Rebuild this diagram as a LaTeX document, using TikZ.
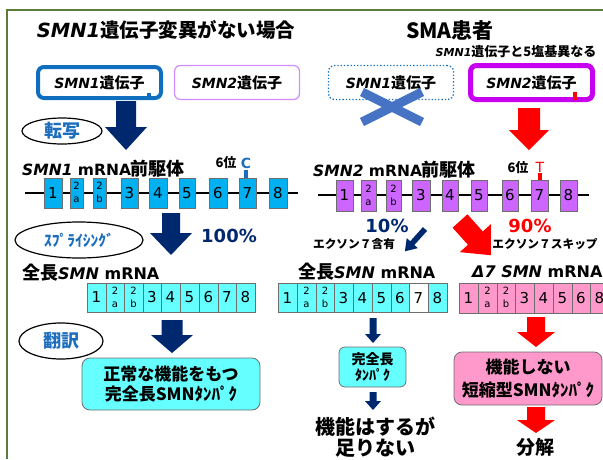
\documentclass[tikz,border=0pt]{standalone}
\usepackage{fontspec}
\setmainfont{Noto Sans CJK JP}
\newfontfamily\dv{DejaVu Sans}
\usetikzlibrary{shapes.geometric}
\newcommand\fsz[1]{\fontsize{#1}{#1}\selectfont}
\newcommand\smnit[2]{{\dv\bfseries\itshape\fsz{#1}#2}}
\newcommand\lat[2]{{\dv\bfseries\fsz{#1}#2}}
\newcommand\two[1]{\begin{tabular}{@{}c@{}}\fsz{10}2\\[-2pt]\fsz{10}#1\end{tabular}}
\newcommand\barrow[5]{\fill[#1] ({-#4},0) -- (#4,0) -- (#4,{#2-#3}) -- (#5,{#2-#3}) -- (0,#2) -- ({-#5},{#2-#3}) -- ({-#4},{#2-#3}) -- cycle;}
\definecolor{navy}{RGB}{0,40,110}
\definecolor{tblue}{RGB}{30,110,190}
\definecolor{gblue}{RGB}{16,110,190}
\definecolor{lviolet}{RGB}{210,140,255}
\definecolor{magen}{RGB}{200,0,240}
\definecolor{xblue}{RGB}{70,115,196}
\definecolor{exb}{RGB}{0,176,240}
\definecolor{exv}{RGB}{204,102,255}
\definecolor{mcy}{RGB}{102,255,255}
\definecolor{mpk}{RGB}{255,153,204}
\definecolor{frm}{RGB}{90,125,55}
\definecolor{bred}{RGB}{255,0,0}
\definecolor{exbd}{RGB}{110,110,110}
\begin{document}
\begin{tikzpicture}[x=1pt,y=-1pt,
  exonL/.style={draw=exbd, fill=exb, line width=0.8, inner sep=0, minimum height=30, font={\dv\fsz{15}}},
  exonR/.style={draw=exbd, fill=exv, line width=0.8, inner sep=0, minimum height=31, font={\dv\fsz{15}}},
  cellC/.style={draw=exbd, fill=mcy, line width=0.8, inner sep=0, minimum height=29, font={\dv\fsz{15}}},
  cellP/.style={draw=exbd, fill=mpk, line width=0.8, inner sep=0, minimum height=30, font={\dv\fsz{15}}},
  oval/.style={draw, ellipse, line width=1.2, inner sep=0, text=tblue, font={\bfseries\fsz{18}}},
  genetext/.style={font={\bfseries\fsz{15}}},
  pbox/.style={draw=exbd, line width=0.8, rounded corners=8, align=center, font={\bfseries\fsz{17}}}
]
\useasboundingbox (0,0) rectangle (603,459);
\clip (0,0) rectangle (603,459);
% frame
\draw[frm, line width=2] (7,459) -- (7,10) -- (603,10);

% titles
\node[font={\bfseries\fsz{19.5}}] (title1) at (166,30) {\smnit{19.5}{SMN1}遺伝子変異がない場合};
\node[font={\bfseries\fsz{21}}] (title2) at (450,31) {SMA患者};
\node[font={\bfseries\fsz{13}}] (sub) at (516,52) {\smnit{11}{SMN1}遺伝子と5塩基異なる};

% gene boxes
\node[genetext, draw=gblue, line width=4, rounded corners=6, minimum width=123, minimum height=31] (g1) at (99.5,82.5) {\smnit{14}{SMN1}遺伝子};
\fill[gblue] (147,93) rectangle (151,99);
\node[genetext, draw=lviolet, line width=1.2, rounded corners=6, minimum width=125, minimum height=34] (g2) at (237,82.5) {\smnit{14}{SMN2}遺伝子};
\node[genetext, draw=gblue, dotted, line width=1.3, rounded corners=6, minimum width=125, minimum height=34] (g3) at (391,82.5) {\smnit{14}{SMN1}遺伝子};
\node[genetext, draw=magen, line width=5, rounded corners=6, minimum width=122, minimum height=34] (g4) at (531.5,82.5) {\smnit{14}{SMN2}遺伝子};
\fill[bred] (573,92) rectangle (577,100);
% blue X
\draw[xblue, line width=9] (362,92) -- (422,122);
\draw[xblue, line width=9] (362,122) -- (422,92);

% transcription
\node[oval, minimum width=80, minimum height=26] (tr) at (62,131) {転写};
\barrow{navy, shift={(126,101)}}{49}{23}{10}{21}
\barrow{bred, shift={(529,108)}}{42}{20}{11}{20}

% pre-mRNA left
\node[anchor=west, inner sep=0, font={\bfseries\fsz{18}}] (preL) at (22,169) {\smnit{15.5}{SMN1}\lat{15.5}{\ mRNA}前駆体};
\node[font={\bfseries\fsz{13}}] (p6L) at (226,163) {6位};
\coordinate (lLs) at (25,193);
\coordinate (lLe) at (298,193);
\draw[line width=2.5] (lLs) -- (lLe);
\foreach \a/\b/\l [count=\i] in {44/62/1, 70/83/{\two{a}}, 93/106/{\two{b}}, 121/138/3, 149/167/4, 179/195/5, 209/227/6, 239/256/7, 269/287/8}
  \node[exonL, minimum width={(\b-\a)*1pt}] (eL\i) at ({(\a+\b)/2},193) {\l};
\node[text=tblue, font={\dv\bfseries\fsz{14}}, inner sep=1] (cL) at (246,163) {C};
\draw[tblue, line width=4] (cL.south) -- (cL.south |- eL8.north);

% pre-mRNA right
\node[anchor=west, inner sep=0, font={\bfseries\fsz{18}}] (preR) at (313,170) {\smnit{15.5}{SMN2}\lat{15.5}{\ mRNA}前駆体};
\node[font={\bfseries\fsz{13}}] (p6R) at (518,168) {6位};
\coordinate (lRs) at (318,195);
\coordinate (lRe) at (589,195);
\draw[line width=2.5] (lRs) -- (lRe);
\foreach \a/\b/\l [count=\i] in {336/353/1, 361/376/{\two{a}}, 386/401/{\two{b}}, 412/430/3, 442/458/4, 471/487/5, 502/518/6, 531/548/7, 560/577/8}
  \node[exonR, minimum width={(\b-\a)*1pt}] (eR\i) at ({(\a+\b)/2},195.5) {\l};
\node[text=bred, font={\dv\fsz{14}}, inner sep=1] (tR) at (540,167) {T};
\draw[bred, line width=4] (tR.south) -- (tR.south |- eR8.north);

% splicing
\node[oval, minimum width=128, minimum height=36, font={\bfseries\fsz{15.5}}] (sp) at (79,240) {ｽﾌﾟﾗｲｼﾝｸﾞ};
\barrow{navy, shift={(171,213)}}{42}{22}{9}{21}
\node[text=navy, font={\dv\bfseries\fsz{18}}] (pc100) at (229,236) {100\%};

\node[text=navy, font={\dv\bfseries\fsz{18}}] (pc10) at (387,226) {10\%};
\node[font={\bfseries\fsz{11.7}}] (inc7) at (354,244) {エクソン７含有};
\barrow{navy, shift={(425,229)}, rotate=-42}{30}{11}{2.8}{7.5}
\node[text=bred, font={\dv\bfseries\fsz{18}}] (pc90) at (530,226) {90\%};
\node[font={\bfseries\fsz{11.7}}] (skip7) at (545,244) {エクソン７スキップ};
\barrow{bred, shift={(460,221)}, rotate=42}{46}{23}{10}{21}

% mature mRNAs
\node[anchor=west, inner sep=0, font={\bfseries\fsz{18}}] (fullL) at (22,273) {全長\smnit{16}{SMN}\lat{16}{\ mRNA}};
\foreach \a/\b/\l [count=\i] in {87/106/1, 106/124/{\two{a}}, 124/143/{\two{b}}, 143/161/3, 161/180/4, 180/199/5, 199/218/6, 218/236/7, 236/255/8}
  \node[cellC, minimum width={(\b-\a)*1pt}] (mL\i) at ({(\a+\b)/2},297.5) {\l};

\node[anchor=west, inner sep=0, font={\bfseries\fsz{18}}] (fullR) at (298,272) {全長\smnit{16}{SMN}\lat{16}{\ mRNA}};
\foreach \a/\b/\l/\c [count=\i] in {278/297/1/mcy, 297/316/{\two{a}}/mcy, 316/334/{\two{b}}/mcy, 334/353/3/mcy, 353/372/4/mcy, 372/391/5/mcy, 391/409/6/mcy, 409/428/7/white, 428/447/8/mcy}
  \node[cellC, fill=\c, minimum width={(\b-\a)*1pt}] (mR\i) at ({(\a+\b)/2},298) {\l};

\node[anchor=west, inner sep=0] (delta) at (472,272) {\smnit{16}{Δ7 SMN}\lat{16}{\ mRNA}};
\foreach \a/\b/\l [count=\i] in {459/478/1, 478/497/{\two{a}}, 497/515/{\two{b}}, 515/534/3, 534/553/4, 553/572/5, 572/590/6, 590/609/8}
  \node[cellP, minimum width={(\b-\a)*1pt}] (mD\i) at ({(\a+\b)/2},298) {\l};

% translation
\node[oval, minimum width=84, minimum height=36] (hy) at (61,341) {翻訳};
\barrow{navy, shift={(172,320)}}{33}{18}{10.5}{21}
\node[pbox, fill=mcy, minimum width=178, minimum height=52] (protL) at (171,384) {正常な機能をもつ\\[3pt]完全長SMNﾀﾝﾊﾟｸ};

\barrow{navy, shift={(373,318)}}{25}{9}{3.5}{8}
\node[pbox, fill=mcy, minimum width=67, minimum height=40, rounded corners=6, font={\bfseries\fsz{14}}] (protM) at (372.5,367) {完全長\\[2pt]ﾀﾝﾊﾟｸ};
\barrow{navy, shift={(373,392)}}{18}{9}{3.5}{8}
\node[align=center, font={\bfseries\fsz{20}}] (insuf) at (375,437) {機能はするが\\[1pt]足りない};

\barrow{bred, shift={(536,317)}}{30}{15}{9}{19}
\node[pbox, fill=mpk, minimum width=148, minimum height=53] (protR) at (528,378.5) {機能しない\\[6pt]短縮型SMNﾀﾝﾊﾟｸ};
\barrow{bred, shift={(536,407)}}{26}{13}{9}{19}
\node[font={\bfseries\fsz{19}}] (deg) at (535,447) {分解};
\end{tikzpicture}
\end{document}
